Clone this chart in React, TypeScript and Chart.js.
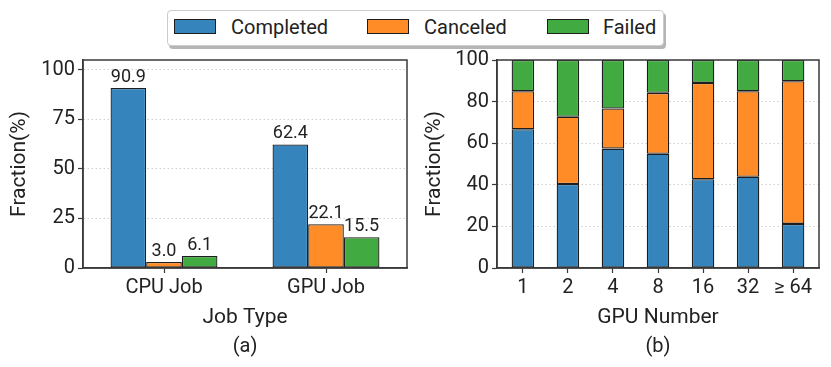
import React, { useEffect, useRef } from 'react';
import { Chart, registerables } from 'chart.js';

Chart.register(...registerables);

const seriesNames = ['Completed', 'Canceled', 'Failed'];
const seriesColors = ['rgb(53,133,188)', 'rgb(255,140,38)', 'rgb(65,170,65)'];

const jobTypes = ['CPU Job', 'GPU Job'];
const jobCompleted = [90.9, 62.4];
const jobCanceled = [3.0, 22.1];
const jobFailed = [6.1, 15.5];
const jobTicks = [0, 25, 50, 75, 100];

const gpuNumbers = ['1', '2', '4', '8', '16', '32', '≥ 64'];
const gpuCompleted = [66.7, 40.4, 57.4, 54.9, 42.7, 43.9, 21.2];
const gpuCanceled = [18.3, 32.3, 19.3, 29.3, 46.3, 41.1, 68.6];
const gpuFailed = [15.0, 27.3, 23.3, 15.8, 11.0, 15.0, 10.2];
const gpuTicks = [0, 20, 40, 60, 80, 100];

const FONT = 'Roboto';
const TEXT = '#222';
const EDGE = '#1e1e1e';
const AXIS = '#3a3a3a';

const framePlugin = {
  id: 'frame',
  afterDraw(chart: any) {
    const { ctx, chartArea } = chart;
    const { left, top, right, bottom } = chartArea;
    ctx.save();
    ctx.strokeStyle = AXIS;
    ctx.lineWidth = 1.5;
    ctx.strokeRect(left, top, right - left, bottom - top);
    ctx.restore();
  },
};

const valueLabelPlugin = {
  id: 'valueLabels',
  afterDatasetsDraw(chart: any) {
    const { ctx } = chart;
    ctx.save();
    ctx.font = `18px ${FONT}`;
    ctx.fillStyle = TEXT;
    ctx.textAlign = 'center';
    ctx.textBaseline = 'alphabetic';
    chart.data.datasets.forEach((ds: any, di: number) => {
      const meta = chart.getDatasetMeta(di);
      meta.data.forEach((bar: any, i: number) => {
        ctx.fillText(Number(ds.data[i]).toFixed(1), bar.x, bar.y - 6);
      });
    });
    ctx.restore();
  },
};

function yScale(ticks: number[], max: number, width: number, titlePad: number) {
  return {
    min: 0,
    max,
    afterBuildTicks: (scale: any) => {
      scale.ticks = ticks.map((v) => ({ value: v }));
    },
    afterFit: (scale: any) => {
      scale.width = width;
    },
    ticks: { color: TEXT, font: { family: FONT, size: 20 }, padding: 3 },
    grid: {
      color: '#cfcfcf',
      lineWidth: 1,
      drawTicks: true,
      tickLength: 5,
      tickColor: AXIS,
      tickWidth: 1.2,
    },
    border: { display: true, color: AXIS, width: 1.5, dash: [1.5, 2.5] },
    title: {
      display: true,
      text: 'Fraction(%)',
      color: TEXT,
      font: { family: FONT, size: 21 },
      padding: { top: titlePad, bottom: 0 },
    },
  };
}

const xTickGrid = {
  offset: false,
  drawOnChartArea: false,
  drawTicks: true,
  tickLength: 5,
  tickColor: AXIS,
  tickWidth: 1.2,
};

function xTitle(text: string) {
  return {
    display: true,
    text,
    color: TEXT,
    font: { family: FONT, size: 21 },
    padding: { top: 0, bottom: 5 },
  };
}

function subTitle(text: string) {
  return {
    display: true,
    text,
    position: 'bottom' as const,
    fullSize: false,
    color: TEXT,
    font: { family: FONT, size: 20, weight: 'normal' as const },
    padding: { top: 0, bottom: 0 },
  };
}

function LeftChart() {
  const ref = useRef<HTMLCanvasElement | null>(null);
  useEffect(() => {
    if (!ref.current) return;
    const values = [jobCompleted, jobCanceled, jobFailed];
    const chart = new Chart(ref.current, {
      type: 'bar',
      data: {
        labels: jobTypes,
        datasets: seriesNames.map((name, i) => ({
          label: name,
          data: values[i],
          backgroundColor: seriesColors[i],
          borderColor: EDGE,
          borderWidth: 1.3,
          borderSkipped: false,
          categoryPercentage: 0.66,
          barPercentage: 1.0,
        })),
      },
      options: {
        animation: false,
        responsive: true,
        maintainAspectRatio: false,
        layout: { padding: { left: 0, right: 9, top: 14, bottom: 8 } },
        plugins: { legend: { display: false }, tooltip: { enabled: false }, title: subTitle('(a)') },
        scales: {
          x: {
            afterFit: (scale: any) => {
              scale.height = 67;
            },
            ticks: { color: TEXT, font: { family: FONT, size: 20 }, padding: 3, maxRotation: 0, autoSkip: false },
            grid: xTickGrid,
            border: { display: true, color: AXIS, width: 1.5 },
            title: xTitle('Job Type'),
          },
          y: yScale(jobTicks, 105, 83, 7),
        },
      } as any,
      plugins: [valueLabelPlugin, framePlugin],
    });
    return () => chart.destroy();
  }, []);
  return (
    <div style={{ position: 'absolute', left: 0, top: 45, width: 416, height: 322 }}>
      <canvas ref={ref} />
    </div>
  );
}

function RightChart() {
  const ref = useRef<HTMLCanvasElement | null>(null);
  useEffect(() => {
    if (!ref.current) return;
    const values = [gpuCompleted, gpuCanceled, gpuFailed];
    const chart = new Chart(ref.current, {
      type: 'bar',
      data: {
        datasets: seriesNames.map((name, i) => ({
          label: name,
          data: values[i].map((v, j) => ({ x: j, y: v })),
          backgroundColor: seriesColors[i],
          borderColor: EDGE,
          borderWidth: 1.3,
          borderSkipped: false,
          categoryPercentage: 1.0,
          barPercentage: 0.5,
        })),
      },
      options: {
        animation: false,
        responsive: true,
        maintainAspectRatio: false,
        layout: { padding: { left: 0, right: 12, top: 14, bottom: 8 } },
        plugins: { legend: { display: false }, tooltip: { enabled: false }, title: subTitle('(b)') },
        scales: {
          x: {
            type: 'linear',
            stacked: true,
            min: -0.575,
            max: gpuNumbers.length - 1 + 0.575,
            offset: false,
            afterBuildTicks: (scale: any) => {
              scale.ticks = gpuNumbers.map((_, j) => ({ value: j }));
            },
            afterFit: (scale: any) => {
              scale.height = 67;
            },
            ticks: {
              color: TEXT,
              font: { family: FONT, size: 20 },
              padding: 3,
              maxRotation: 0,
              autoSkip: false,
              callback: (v: any) => gpuNumbers[Math.round(Number(v))] ?? '',
            },
            grid: xTickGrid,
            border: { display: true, color: AXIS, width: 1.5 },
            title: xTitle('GPU Number'),
          },
          y: { ...yScale(gpuTicks, 100, 81, 6), stacked: true },
        },
      } as any,
      plugins: [framePlugin],
    });
    return () => chart.destroy();
  }, []);
  return (
    <div style={{ position: 'absolute', left: 416, top: 45, width: 415, height: 322 }}>
      <canvas ref={ref} />
    </div>
  );
}

function Legend() {
  const items = [
    { rect: 174, text: 231 },
    { rect: 367, text: 424 },
    { rect: 547, text: 603 },
  ];
  return (
    <div
      style={{
        position: 'absolute',
        left: 167,
        top: 10,
        width: 495,
        height: 34,
        border: '1px solid #cccccc',
        borderRadius: 4,
        background: '#fff',
        boxShadow: '2px 3px 0 #b5b5b5',
      }}
    >
      {seriesNames.map((name, i) => (
        <React.Fragment key={name}>
          <div
            style={{
              position: 'absolute',
              left: items[i].rect - 168,
              top: 8,
              width: 40,
              height: 13,
              background: seriesColors[i],
              border: `1.2px solid ${EDGE}`,
            }}
          />
          <div
            style={{
              position: 'absolute',
              left: items[i].text - 168,
              top: 3,
              fontFamily: FONT,
              fontSize: 20,
              lineHeight: '26px',
              color: TEXT,
              whiteSpace: 'nowrap',
            }}
          >
            {name}
          </div>
        </React.Fragment>
      ))}
    </div>
  );
}

export default function App() {
  return (
    <div style={{ position: 'absolute', left: 0, top: 0, width: 831, height: 367, background: '#fff', overflow: 'hidden' }}>
      <Legend />
      <LeftChart />
      <RightChart />
    </div>
  );
}
